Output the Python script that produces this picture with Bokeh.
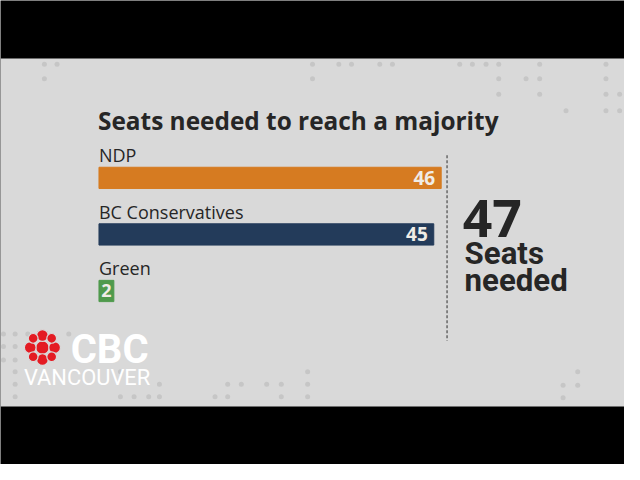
from bokeh.plotting import figure
from bokeh.models import Range1d, BoxAnnotation
from bokeh.core.properties import value
from bokeh.embed import file_html
from bokeh.resources import INLINE

# ---- data ----
title_text = "Seats needed to reach a majority"
parties = ["NDP", "BC Conservatives", "Green"]
seats_needed = [46, 45, 2]
bar_colors = ["#d67b21", "#233b5a", "#4f9a4c"]
majority_seats = 47
majority_label = ["Seats", "needed"]

# ---- layout helpers (reference pixels -> data units) ----
W, H = 624, 464
PX_PER_SEAT = 351 / 46
X0 = 101
def X(px):
    return (px - X0) / PX_PER_SEAT

K = 624 / 640  # overall scale of the reference onto the figure
def fs(px):
    return "%.1fpx" % (px * K)

SANS = value("Open Sans")
ROBO = value("Roboto")
BG = "#d9d9d9"
DARK = "#262626"

p = figure(width=W, height=H, x_range=Range1d(X(0), X(640)), y_range=Range1d(480, 0),
           output_backend="svg", toolbar_location=None, min_border=0,
           x_axis_location=None, y_axis_location=None)
p.grid.visible = False
p.outline_line_color = None
p.background_fill_color = "black"
p.border_fill_color = "black"

p.add_layout(BoxAnnotation(top=60, bottom=420, fill_color=BG, fill_alpha=1, line_color=None, level="underlay"))

# decorative dots
dots = [(45, 66), (58, 66), (320, 66), (347, 66), (360, 66), (389, 66), (402, 66), (471, 66), (484, 66),
        (498, 66), (511, 66), (553, 66), (621, 66),
        (45, 81), (320, 81), (511, 81), (539, 81), (553, 81), (621, 81),
        (511, 97), (553, 97), (621, 97), (635, 97), (580, 114), (621, 114), (635, 114),
        (3, 345), (15, 345), (28, 345), (70, 345), (3, 358), (15, 358), (3, 372), (15, 372),
        (15, 384), (123, 384), (315, 384), (15, 397), (163, 397), (233, 397), (247, 397), (273, 397),
        (288, 397), (315, 397), (15, 410), (123, 410), (137, 410), (152, 410), (163, 410), (220, 410),
        (233, 410), (288, 410), (315, 410), (592, 384), (577, 398), (592, 398), (577, 411)]
p.scatter([X(d[0]) for d in dots], [d[1] for d in dots], size=5, color="#c6c6c6", line_color=None)

# title
p.text([X(100)], [124], text=[title_text], text_font=SANS, text_font_style="bold",
       text_font_size=fs(25), text_color=DARK, text_baseline="middle")

ys = [183.5 + 58.5 * i for i in range(len(parties))]

# bars
p.hbar(y=ys, left=0, right=seats_needed, height=22, color=bar_colors)

# party labels
p.text([0] * len(parties), [y - 23.5 for y in ys], text=parties, text_font=SANS,
       text_font_size=fs(18.5), text_color=DARK, text_baseline="middle")

# values
big = [i for i, v in enumerate(seats_needed) if v >= 10]
small = [i for i, v in enumerate(seats_needed) if v < 10]
p.text([seats_needed[i] for i in big], [ys[i] for i in big], text=[str(seats_needed[i]) for i in big],
       x_offset=-6, text_font=SANS, text_font_style="bold", text_font_size=fs(19.5),
       text_color="#f0ece6", text_align="right", text_baseline="middle")
p.text([seats_needed[i] / 2 for i in small], [ys[i] for i in small], text=[str(seats_needed[i]) for i in small],
       text_font=SANS, text_font_style="bold", text_font_size=fs(18.5),
       text_color="#f0ece6", text_align="center", text_baseline="middle")

# dashed divider
p.segment(x0=[X(458)], y0=[160], x1=[X(458)], y1=[352], line_color="#555555", line_width=1.3, line_dash="3 2")

# majority callout
p.text([X(474)], [226], text=[str(majority_seats)], text_font=SANS, text_font_style="bold",
       text_font_size=fs(53), text_color=DARK, text_baseline="middle")
p.text([X(476)] * 2, [262, 290], text=majority_label, text_font=ROBO, text_font_style="bold",
       text_font_size=fs(32), text_color=DARK, text_baseline="middle")

# CBC gem logo (decoration)
cx, cy = 43, 359
gem = [(0, 0, 14)]
for dx, dy in [(0, -12.5), (0, 12.5), (-12.5, 0), (12.5, 0)]:
    gem.append((dx, dy, 12))
for dx, dy in [(-9.5, -9.5), (9.5, -9.5), (-9.5, 9.5), (9.5, 9.5)]:
    gem.append((dx, dy, 10))
p.scatter([X(cx + g[0]) for g in gem], [cy + g[1] for g in gem], size=[g[2] * K for g in gem],
          fill_color="#e41b23", line_color=BG, line_width=1.2)
p.text([X(72)], [361], text=["CBC"], text_font=ROBO, text_font_style="bold",
       text_font_size=fs(41), text_color="white", text_baseline="middle")
p.text([X(24)], [390.5], text=["VANCOUVER"], text_font=ROBO, text_font_style="normal",
       text_font_size=fs(22.5), text_color="white", text_baseline="middle")

open("out.html", "w").write(file_html(p, INLINE))
